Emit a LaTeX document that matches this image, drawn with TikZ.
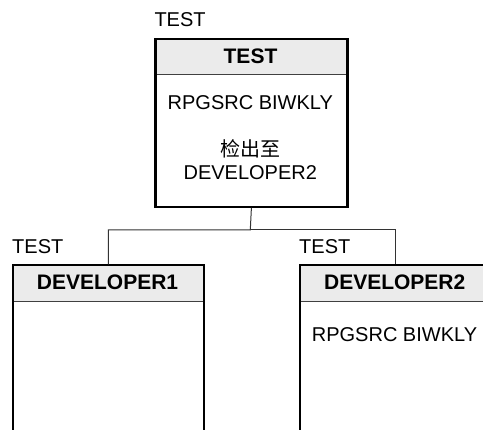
\documentclass[tikz,border=0pt]{standalone}
\usepackage{fontspec}
\setmainfont{Liberation Sans}
\newfontfamily\cjk{Noto Sans CJK SC}
\definecolor{hdrfill}{HTML}{EBEBEB}
\definecolor{linkcol}{HTML}{333333}
\begin{document}
\begin{tikzpicture}[x=1pt,y=-1pt,
  every node/.style={font=\fontsize{20}{24}\selectfont, inner sep=0pt},
  hdr/.style={fill=hdrfill, draw=none, anchor=north west, minimum height=36.4pt,
    font=\fontsize{21}{25}\selectfont\bfseries},
  sep/.style={draw=black!75, line width=1.1pt},
  box/.style={draw=black, line width=2.2pt, anchor=north west, fill=none},
  txt/.style={anchor=center},
  lbl/.style={anchor=west},
  link/.style={draw=linkcol, line width=1pt}]
\path[use as bounding box] (0,0) rectangle (483,430);
\clip (0,0) rectangle (483,430);
% top box
\node[hdr, minimum width=192pt] (toph) at (154.3,37.7) {TEST};
\draw[sep] (toph.south west) -- (toph.south east);
\node[box, minimum width=192pt, minimum height=168pt] (top) at (154.3,37.7) {};
\node[lbl] (l0) at (154.3,20) {TEST};
\node[txt] (t1) at (250.3,103) {RPGSRC BIWKLY};
\node[txt] (t2) at (250.3,148.7) {\cjk 检出至};
\node[txt] (t3) at (250.3,172.5) {DEVELOPER2};
% left child
\node[hdr, minimum width=190.7pt] (d1h) at (12,264.3) {DEVELOPER1};
\draw[sep] (d1h.south west) -- (d1h.south east);
\node[box, minimum width=190.7pt, minimum height=200pt] (d1) at (12,264.3) {};
\node[lbl] (l1) at (12,246.7) {TEST};
% right child
\node[hdr, minimum width=191pt] (d2h) at (299,264.3) {DEVELOPER2};
\draw[sep] (d2h.south west) -- (d2h.south east);
\node[box, minimum width=191pt, minimum height=200pt] (d2) at (299,264.3) {};
\node[lbl] (l2) at (299,246.7) {TEST};
\node[txt] (t4) at (394.5,335) {RPGSRC BIWKLY};
% connectors
\coordinate (bus) at (250.3,230);
\draw[link] (top.south) -- (bus) -| (d1.north);
\draw[link] (bus) -| (d2.north);
\end{tikzpicture}
\end{document}
